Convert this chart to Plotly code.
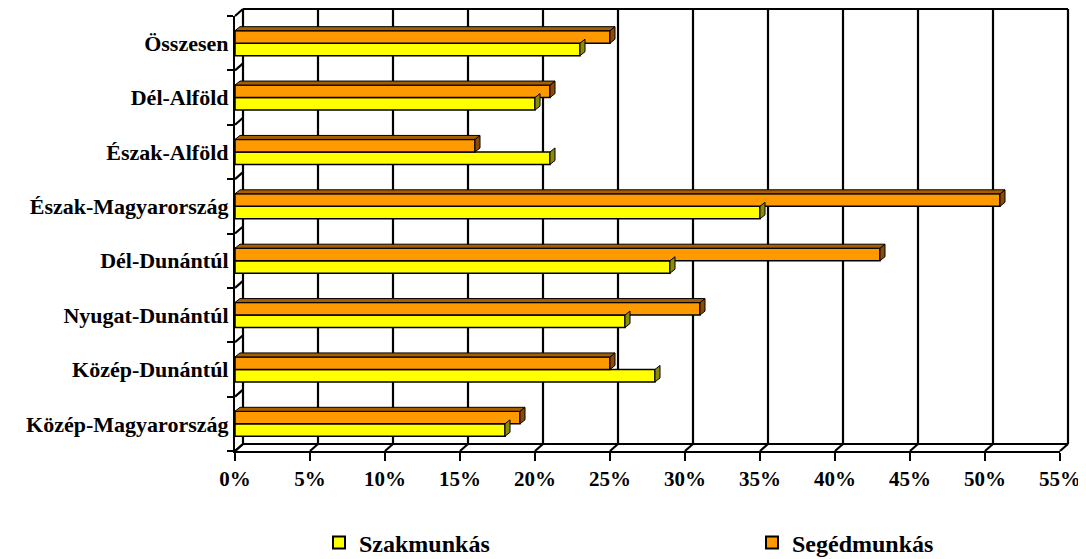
import plotly.graph_objects as go

categories = ["Közép-Magyarország", "Közép-Dunántúl", "Nyugat-Dunántúl", "Dél-Dunántúl",
              "Észak-Magyarország", "Észak-Alföld", "Dél-Alföld", "Összesen"]
szakmunkas = [18, 28, 26, 29, 35, 21, 20, 23]
segedmunkas = [19, 25, 31, 43, 51, 16, 21, 25]
x_ticks = [0, 5, 10, 15, 20, 25, 30, 35, 40, 45, 50, 55]
x_tick_labels = [f"{v}%" for v in x_ticks]

FONT = "Liberation Serif"
# the page body has an 8px default margin, so the figure is drawn 8px smaller
BODY = 8
W, H = 1086 - BODY, 559 - BODY
ML, MR, MT, MB = 235 - BODY, 26, 16 - BODY, 108
PW, PH = W - ML - MR, H - MT - MB
XMAX = 55
BARGAP = 0.54
N = len(categories)

# depth of the 3D back wall / floor, in px -> paper units
DX_PX, DY_PX = 8, 7
dxp = DX_PX / PW
dyp = DY_PX / PH
# depth of the bars
BDX_PX, BDY_PX = 5, 4
bdx = BDX_PX * XMAX / PW
bdy = BDY_PX / PH

fig = go.Figure()
fig.add_trace(go.Bar(
    y=categories, x=szakmunkas, orientation="h", name="Szakmunkás",
    marker=dict(color="#FFFF00", line=dict(color="black", width=1.5)),
    legend="legend",
))
fig.add_trace(go.Bar(
    y=categories, x=segedmunkas, orientation="h", name="Segédmunkás",
    marker=dict(color="#FF9900", line=dict(color="black", width=1.5)),
    legend="legend2",
))

shapes = []
line_style = dict(color="black", width=2.2)
for v in x_ticks:
    xp = v / XMAX
    shapes.append(dict(type="line", xref="paper", yref="paper", x0=xp + dxp, x1=xp + dxp,
                       y0=dyp, y1=1 + dyp, line=line_style, layer="below"))
    shapes.append(dict(type="line", xref="paper", yref="paper", x0=xp, x1=xp + dxp,
                       y0=0, y1=dyp, line=line_style, layer="below"))
shapes.append(dict(type="line", xref="paper", yref="paper", x0=dxp, x1=1 + dxp,
                   y0=dyp, y1=dyp, line=line_style, layer="below"))
shapes.append(dict(type="line", xref="paper", yref="paper", x0=dxp, x1=1 + dxp,
                   y0=1 + dyp, y1=1 + dyp, line=line_style, layer="below"))
for i in range(N + 1):
    yb = i / N
    shapes.append(dict(type="line", xref="paper", yref="paper", x0=0, x1=dxp,
                       y0=yb, y1=yb + dyp, line=line_style, layer="below"))

# bar depth faces
bw = (1 - BARGAP) / 2 / N
series = [(szakmunkas, -1, "#8C8C00", "#B3B300"), (segedmunkas, 0, "#8C4C00", "#A65E00")]
for vals, k, side_col, top_col in series:
    for i, v in enumerate(vals):
        yc = (i + 0.5) / N
        y0 = yc + k * bw
        y1 = y0 + bw
        path = f"M {v},{y0} L {v + bdx},{y0 + bdy} L {v + bdx},{y1 + bdy} L {v},{y1} Z"
        shapes.append(dict(type="path", xref="x", yref="paper", path=path,
                           fillcolor=side_col, line=dict(color="black", width=1)))
        if k == 0:
            path = f"M 0,{y1} L {bdx},{y1 + bdy} L {v + bdx},{y1 + bdy} L {v},{y1} Z"
            shapes.append(dict(type="path", xref="x", yref="paper", path=path,
                               fillcolor=top_col, line=dict(color="black", width=1)))

legend_font = dict(family=FONT, size=24, color="black", weight="bold")
legend_common = dict(
    orientation="h", xref="container", yref="container",
    xanchor="left", yanchor="middle", y=(H - (543 - BODY)) / H,
    font=legend_font, itemsizing="constant", itemwidth=30,
    bgcolor="rgba(0,0,0,0)",
)

fig.update_layout(
    width=W, height=H,
    margin=dict(l=ML, r=MR, t=MT, b=MB),
    plot_bgcolor="white", paper_bgcolor="white",
    barmode="group", bargap=BARGAP, bargroupgap=0,
    font=dict(family=FONT, size=21, color="black"),
    showlegend=True,
    shapes=shapes,
    legend=dict(x=(319 - BODY) / W, **legend_common),
    legend2=dict(x=(752 - BODY) / W, **legend_common),
)
fig.update_xaxes(
    range=[0, XMAX], tickvals=x_ticks, ticktext=x_tick_labels,
    showgrid=False,
    showline=True, linecolor="black", linewidth=2.2, mirror=False,
    ticks="outside", ticklen=8, tickwidth=2.2, tickcolor="black",
    tickfont=dict(family=FONT, size=21, color="black", weight="bold"),
    zeroline=False, automargin=False,
)
fig.update_yaxes(
    range=[-0.5, N - 0.5], automargin=False,
    showline=True, linecolor="black", linewidth=2.2,
    ticks="outside", ticklen=6, tickwidth=2.2, tickcolor="black",
    tickson="boundaries",
    tickfont=dict(family=FONT, size=22, color="black", weight="bold"),
    showgrid=False,
)

fig.write_html("out.html")
